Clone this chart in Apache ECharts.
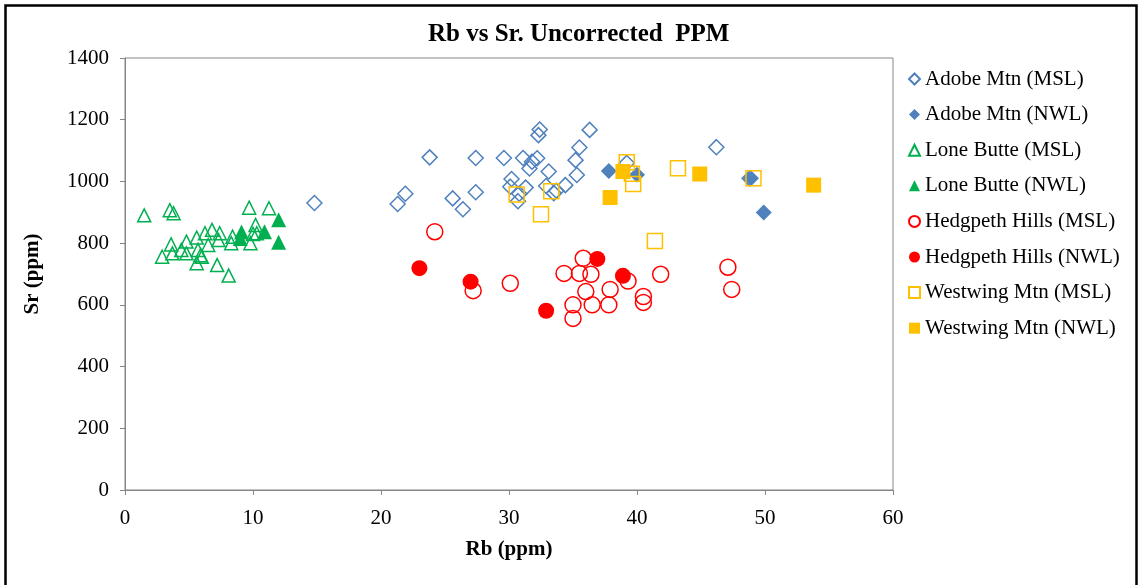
<!DOCTYPE html>
<html>
<head>
<meta charset="utf-8">
<script src="https://cdn.jsdelivr.net/npm/echarts@6/dist/echarts.min.js"></script>
<style>
  html, body { margin: 0; padding: 0; background: #fff; }
  #chart { width: 1138px; height: 585px; }
</style>
</head>
<body>
<div id="chart"></div>
<script>
// Rb (ppm), Sr (ppm)
const adobeMSL = [
  [14.8, 930], [21.3, 927], [21.9, 960], [23.8, 1078], [25.6, 945], [26.4, 910],
  [27.4, 1076], [27.4, 965], [29.6, 1076], [30.1, 983], [30.2, 1008], [30.7, 936],
  [30.8, 960], [31.1, 1076], [31.3, 980], [31.6, 1042], [31.8, 1064], [32.2, 1075],
  [32.3, 1150], [32.4, 1168], [32.9, 985], [33.1, 1032], [33.5, 962], [33.7, 970],
  [34.4, 988], [35.2, 1069], [35.3, 1021], [35.5, 1110], [36.3, 1167], [39.2, 1060],
  [46.2, 1111], [48.8, 1010]
];
const adobeNWL = [[37.8, 1034], [40.0, 1022], [48.9, 1010], [49.9, 899]];
const loneMSL = [
  [1.5, 890], [3.5, 907], [3.8, 897], [2.9, 756], [3.6, 796], [3.7, 767], [4.4, 778],
  [4.8, 805], [4.8, 767], [5.6, 818], [5.7, 778], [5.6, 735], [6.0, 756], [6.25, 832],
  [6.8, 843], [6.5, 794], [7.2, 729], [7.4, 832], [7.3, 810], [8.1, 695], [8.4, 821],
  [8.3, 800], [9.8, 800], [9.7, 915], [10.2, 859], [10.3, 832], [10.0, 830],
  [11.25, 913], [5.9, 761]
];
const loneNWL = [[9.0, 815], [9.1, 836], [10.9, 837], [12.0, 876], [12.0, 803]];
const hedgMSL = [
  [24.2, 837], [27.2, 646], [30.1, 670], [35.8, 751], [34.3, 702], [35.5, 702],
  [36.4, 699], [36.0, 643], [35.0, 600], [35.0, 556], [36.5, 600], [37.8, 600],
  [37.9, 650], [39.3, 677], [40.5, 627], [40.5, 608], [41.85, 699], [47.1, 722], [47.4, 650]
];
const hedgNWL = [[23.0, 719], [27.0, 675], [32.9, 581], [36.9, 749], [38.9, 694]];
const westMSL = [
  [30.6, 958], [33.3, 968], [32.5, 894], [39.2, 1062], [39.6, 1025], [39.7, 992],
  [41.4, 807], [43.2, 1043], [49.1, 1010]
];
const westNWL = [[37.9, 948], [38.9, 1032], [44.9, 1024], [53.8, 988]];

const xTicks = { min: 0, max: 60, interval: 10 };
const yTicks = { min: 0, max: 1400, interval: 200 };

const serif = '"Liberation Serif", "DejaVu Serif", serif';

// open (hollow) marker series
function hollow(name, data, symbol, color, size) {
  return {
    name, type: 'scatter', data, symbol, symbolSize: size,
    itemStyle: { color: 'rgba(255,255,255,0)', borderColor: color, borderWidth: 1.5, opacity: 1 }
  };
}
// filled marker series
function solid(name, data, symbol, color, size) {
  return {
    name, type: 'scatter', data, symbol, symbolSize: size,
    itemStyle: { color: color, opacity: 1 }
  };
}

const chart = echarts.init(document.getElementById('chart'), null, { renderer: 'canvas' });

chart.setOption({
  animation: false,
  backgroundColor: '#fff',
  title: {
    text: 'Rb vs Sr. Uncorrected  PPM',
    left: 423, top: 17,
    textStyle: { fontFamily: serif, fontWeight: 'bold', fontSize: 25, color: '#000' }
  },
  legend: {
    orient: 'vertical',
    left: 903, top: 63,
    itemWidth: 11, itemHeight: 11,
    itemGap: 13.6,
    textStyle: { fontFamily: serif, fontSize: 21, color: '#000', lineHeight: 22 }
  },
  grid: { left: 125, top: 58, width: 768, height: 432, show: true, borderColor: '#868686', borderWidth: 1 },
  xAxis: {
    type: 'value', ...xTicks,
    name: 'Rb (ppm)', nameLocation: 'middle', nameGap: 49,
    nameTextStyle: { fontFamily: serif, fontWeight: 'bold', fontSize: 21, color: '#000' },
    axisLine: { lineStyle: { color: '#868686' } },
    axisTick: { show: true, length: 5, lineStyle: { color: '#868686' } },
    axisLabel: { fontFamily: serif, fontSize: 21, color: '#000', margin: 18 },
    splitLine: { show: false }
  },
  yAxis: {
    type: 'value', ...yTicks,
    name: 'Sr (ppm)', nameLocation: 'middle', nameGap: 82,
    nameTextStyle: { fontFamily: serif, fontWeight: 'bold', fontSize: 21, color: '#000' },
    axisLine: { show: true, lineStyle: { color: '#868686' } },
    axisTick: { show: true, length: 5, lineStyle: { color: '#868686' } },
    axisLabel: { fontFamily: serif, fontSize: 21, color: '#000', margin: 16, formatter: (v) => String(v) },
    splitLine: { show: false }
  },
  graphic: [{
    type: 'rect', left: 3, top: 3, silent: true,
    shape: { width: 1131, height: 600 },
    style: { fill: 'none', stroke: '#000', lineWidth: 2.5 }
  }],
  series: [
    hollow('Adobe Mtn (MSL)', adobeMSL, 'diamond', '#4F81BD', 15),
    solid('Adobe Mtn (NWL)', adobeNWL, 'diamond', '#4F81BD', 16),
    hollow('Lone Butte (MSL)', loneMSL, 'triangle', '#00B050', 13),
    solid('Lone Butte (NWL)', loneNWL, 'triangle', '#00B050', 15),
    hollow('Hedgpeth Hills (MSL)', hedgMSL, 'circle', '#FF0000', 16),
    solid('Hedgpeth Hills (NWL)', hedgNWL, 'circle', '#FF0000', 16),
    hollow('Westwing Mtn (MSL)', westMSL, 'rect', '#FFC000', 15),
    solid('Westwing Mtn (NWL)', westNWL, 'rect', '#FFC000', 15)
  ]
});
</script>
</body>
</html>
